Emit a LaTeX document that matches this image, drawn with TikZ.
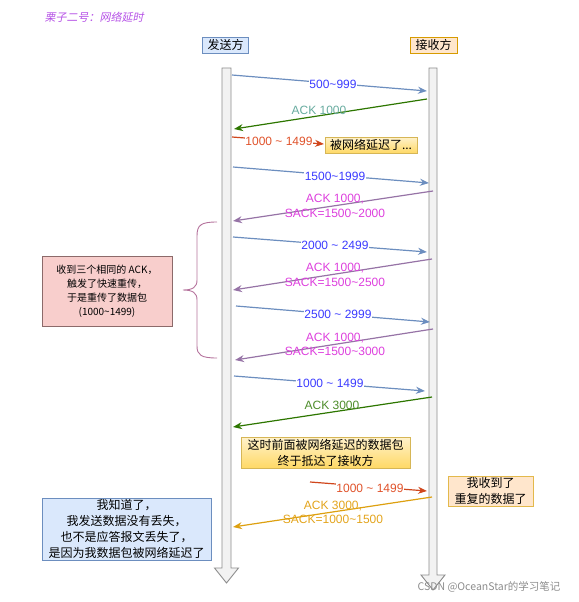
\documentclass[tikz,border=0pt]{standalone}
\usepackage{fontspec}
\setmainfont{Liberation Sans}
\newfontfamily\cjk{Noto Sans CJK SC}
\newfontfamily\cjkslant{Noto Sans CJK SC}[FakeSlant=0.2]
\usetikzlibrary{arrows.meta}

\definecolor{blueline}{HTML}{6C8EBF}
\definecolor{bluetext}{HTML}{3B3BFF}
\definecolor{greenline}{HTML}{2D7600}
\definecolor{tealtext}{HTML}{67AB9F}
\definecolor{greentext}{HTML}{4D8C2A}
\definecolor{purpleline}{HTML}{9673A6}
\definecolor{magtext}{HTML}{DD3FDD}
\definecolor{redline}{HTML}{D0461C}
\definecolor{redtext}{HTML}{E0522A}
\definecolor{goldline}{HTML}{DDA010}
\definecolor{goldtext}{HTML}{E3A41C}
\definecolor{titlecol}{HTML}{B550E6}
\definecolor{bluefill}{HTML}{DAE8FC}
\definecolor{peachfill}{HTML}{FFE6CC}
\definecolor{peachline}{HTML}{D79B00}
\definecolor{yellowtop}{HTML}{FFF2CC}
\definecolor{yellowbot}{HTML}{FFD966}
\definecolor{yellowline}{HTML}{D6B656}
\definecolor{pinkfill}{HTML}{F8CECC}
\definecolor{pinkline}{HTML}{8C6A6A}
\definecolor{bracecol}{HTML}{B5739D}

\tikzset{
  lifeline/.style={draw=black!45, fill=black!5, line width=0.9pt},
  msg/.style={line width=1.2pt, -{Stealth[length=9pt,width=7pt]}},
  lbl/.style={font=\fontsize{12}{14.5}\selectfont, inner sep=0.6pt, align=center},
  box/.style={draw, inner sep=0pt, align=center, font=\cjk\fontsize{12}{16}\selectfont},
  yellowbox/.style={box, draw=yellowline, top color=yellowtop, bottom color=yellowbot},
}

\begin{document}
\begin{tikzpicture}[x=1pt,y=-1pt]
\useasboundingbox (0,0) rectangle (578,602);

\node[font=\cjkslant\fontsize{11}{13}\selectfont, text=titlecol, anchor=west] (title) at (41,17) {栗子二号：网络延时};
\node[box, draw=blueline, fill=bluefill, minimum width=46, minimum height=16] (sender) at (225.5,45) {发送方};
\node[box, draw=peachline, fill=peachfill, minimum width=47, minimum height=16] (receiver) at (433.5,45) {接收方};

% lifelines
\draw[lifeline] (222,68) -- (231,68) -- (231,568) -- (238.5,568) -- (226.5,583) -- (214.5,568) -- (222,568) -- cycle;
\draw[lifeline] (429,68) -- (437,68) -- (437,575) -- (445,575) -- (433,590) -- (421,575) -- (429,575) -- cycle;

\coordinate (d1s) at (232,75);  \coordinate (d1r) at (427,91);
\draw[msg, blueline] (d1s) -- (d1r);
\node[lbl, text=bluetext, fill=white] (l1) at (333,84) {500\textasciitilde999};

\coordinate (a1r) at (427,99);  \coordinate (a1s) at (234,129);
\draw[msg, greenline] (a1r) -- (a1s);
\node[lbl, text=tealtext] (l2) at (319,110) {ACK 1000};

\coordinate (d2s) at (232,137);  \coordinate (d2m) at (324,144);
\draw[msg, redline] (d2s) -- (d2m);
\node[lbl, text=redtext, fill=white] (l3) at (279,141) {1000 \textasciitilde{} 1499};
\node[yellowbox, minimum width=92, minimum height=16] (late) at (371,145) {被网络延迟了...};

\coordinate (d3s) at (233,167);  \coordinate (d3r) at (429,183);
\draw[msg, blueline] (d3s) -- (d3r);
\node[lbl, text=bluetext, fill=white] (l4) at (335,176) {1500\textasciitilde1999};

\coordinate (a2r) at (433,191);  \coordinate (a2s) at (233,221);
\draw[msg, purpleline] (a2r) -- (a2s);
\node[lbl, text=magtext] (l5) at (335,206) {ACK 1000,\\SACK=1500\textasciitilde2000};

\coordinate (d4s) at (233,237);  \coordinate (d4r) at (427,252);
\draw[msg, blueline] (d4s) -- (d4r);
\node[lbl, text=bluetext, fill=white] (l6) at (335,245) {2000 \textasciitilde{} 2499};

\coordinate (a3r) at (432,259);  \coordinate (a3s) at (233,290);
\draw[msg, purpleline] (a3r) -- (a3s);
\node[lbl, text=magtext] (l7) at (335,275) {ACK 1000,\\SACK=1500\textasciitilde2500};

\coordinate (d5s) at (236,306);  \coordinate (d5r) at (430,322);
\draw[msg, blueline] (d5s) -- (d5r);
\node[lbl, text=bluetext, fill=white] (l8) at (338,314) {2500 \textasciitilde{} 2999};

\coordinate (a4r) at (433,329);  \coordinate (a4s) at (235,360);
\draw[msg, purpleline] (a4r) -- (a4s);
\node[lbl, text=magtext] (l9) at (335,344.5) {ACK 1000,\\SACK=1500\textasciitilde3000};

\coordinate (d6s) at (234,376);  \coordinate (d6r) at (425,391);
\draw[msg, blueline] (d6s) -- (d6r);
\node[lbl, text=bluetext, fill=white] (l10) at (330,383) {1000 \textasciitilde{} 1499};

\coordinate (a5r) at (432,397);  \coordinate (a5s) at (233,427);
\draw[msg, greenline] (a5r) -- (a5s);
\node[lbl, text=greentext] (l11) at (332,405) {ACK 3000};

\node[yellowbox, minimum width=169, minimum height=31] (arrive) at (325.5,452.5) {这时前面被网络延迟的数据包\\终于抵达了接收方};

\coordinate (d7m) at (310,482);  \coordinate (d7r) at (427,491);
\draw[msg, redline] (d7m) -- (d7r);
\node[lbl, text=redtext, fill=white] (l12) at (370,488) {1000 \textasciitilde{} 1499};
\node[box, draw=peachline!70, fill=peachfill, minimum width=85, minimum height=30] (dup) at (490.5,491) {我收到了\\重复的数据了};

\coordinate (a6r) at (432,497);  \coordinate (a6s) at (233,527);
\draw[msg, goldline] (a6r) -- (a6s);
\node[lbl, text=goldtext] (l13) at (333,512.5) {ACK 3000,\\SACK=1000\textasciitilde1500};

% fast retransmit note
\draw[bracecol, line width=0.9pt] (217,222) .. controls (201,222) and (197,225) .. (197,236) -- (197,280)
  .. controls (197,287) and (193,290) .. (183,290) .. controls (193,290) and (197,293) .. (197,300)
  -- (197,346) .. controls (197,355) and (201,358) .. (217,358);
\node[box, draw=pinkline, fill=pinkfill, minimum width=130, minimum height=70, font=\cjk\fontsize{10}{14}\selectfont] (fast) at (107,291) {收到三个相同的 ACK，\\触发了快速重传，\\于是重传了数据包\\(1000\textasciitilde1499)};

\node[box, draw=blueline, fill=bluefill, minimum width=169, minimum height=62, font=\cjk\fontsize{12}{15.7}\selectfont] (know) at (126.5,529) {我知道了，\\我发送数据没有丢失，\\也不是应答报文丢失了，\\是因为我数据包被网络延迟了};

\node[font=\cjk\fontsize{10.5}{12}\selectfont, text=black!45, anchor=east] (mark) at (564,587) {CSDN @OceanStar的学习笔记};

\end{tikzpicture}
\end{document}
